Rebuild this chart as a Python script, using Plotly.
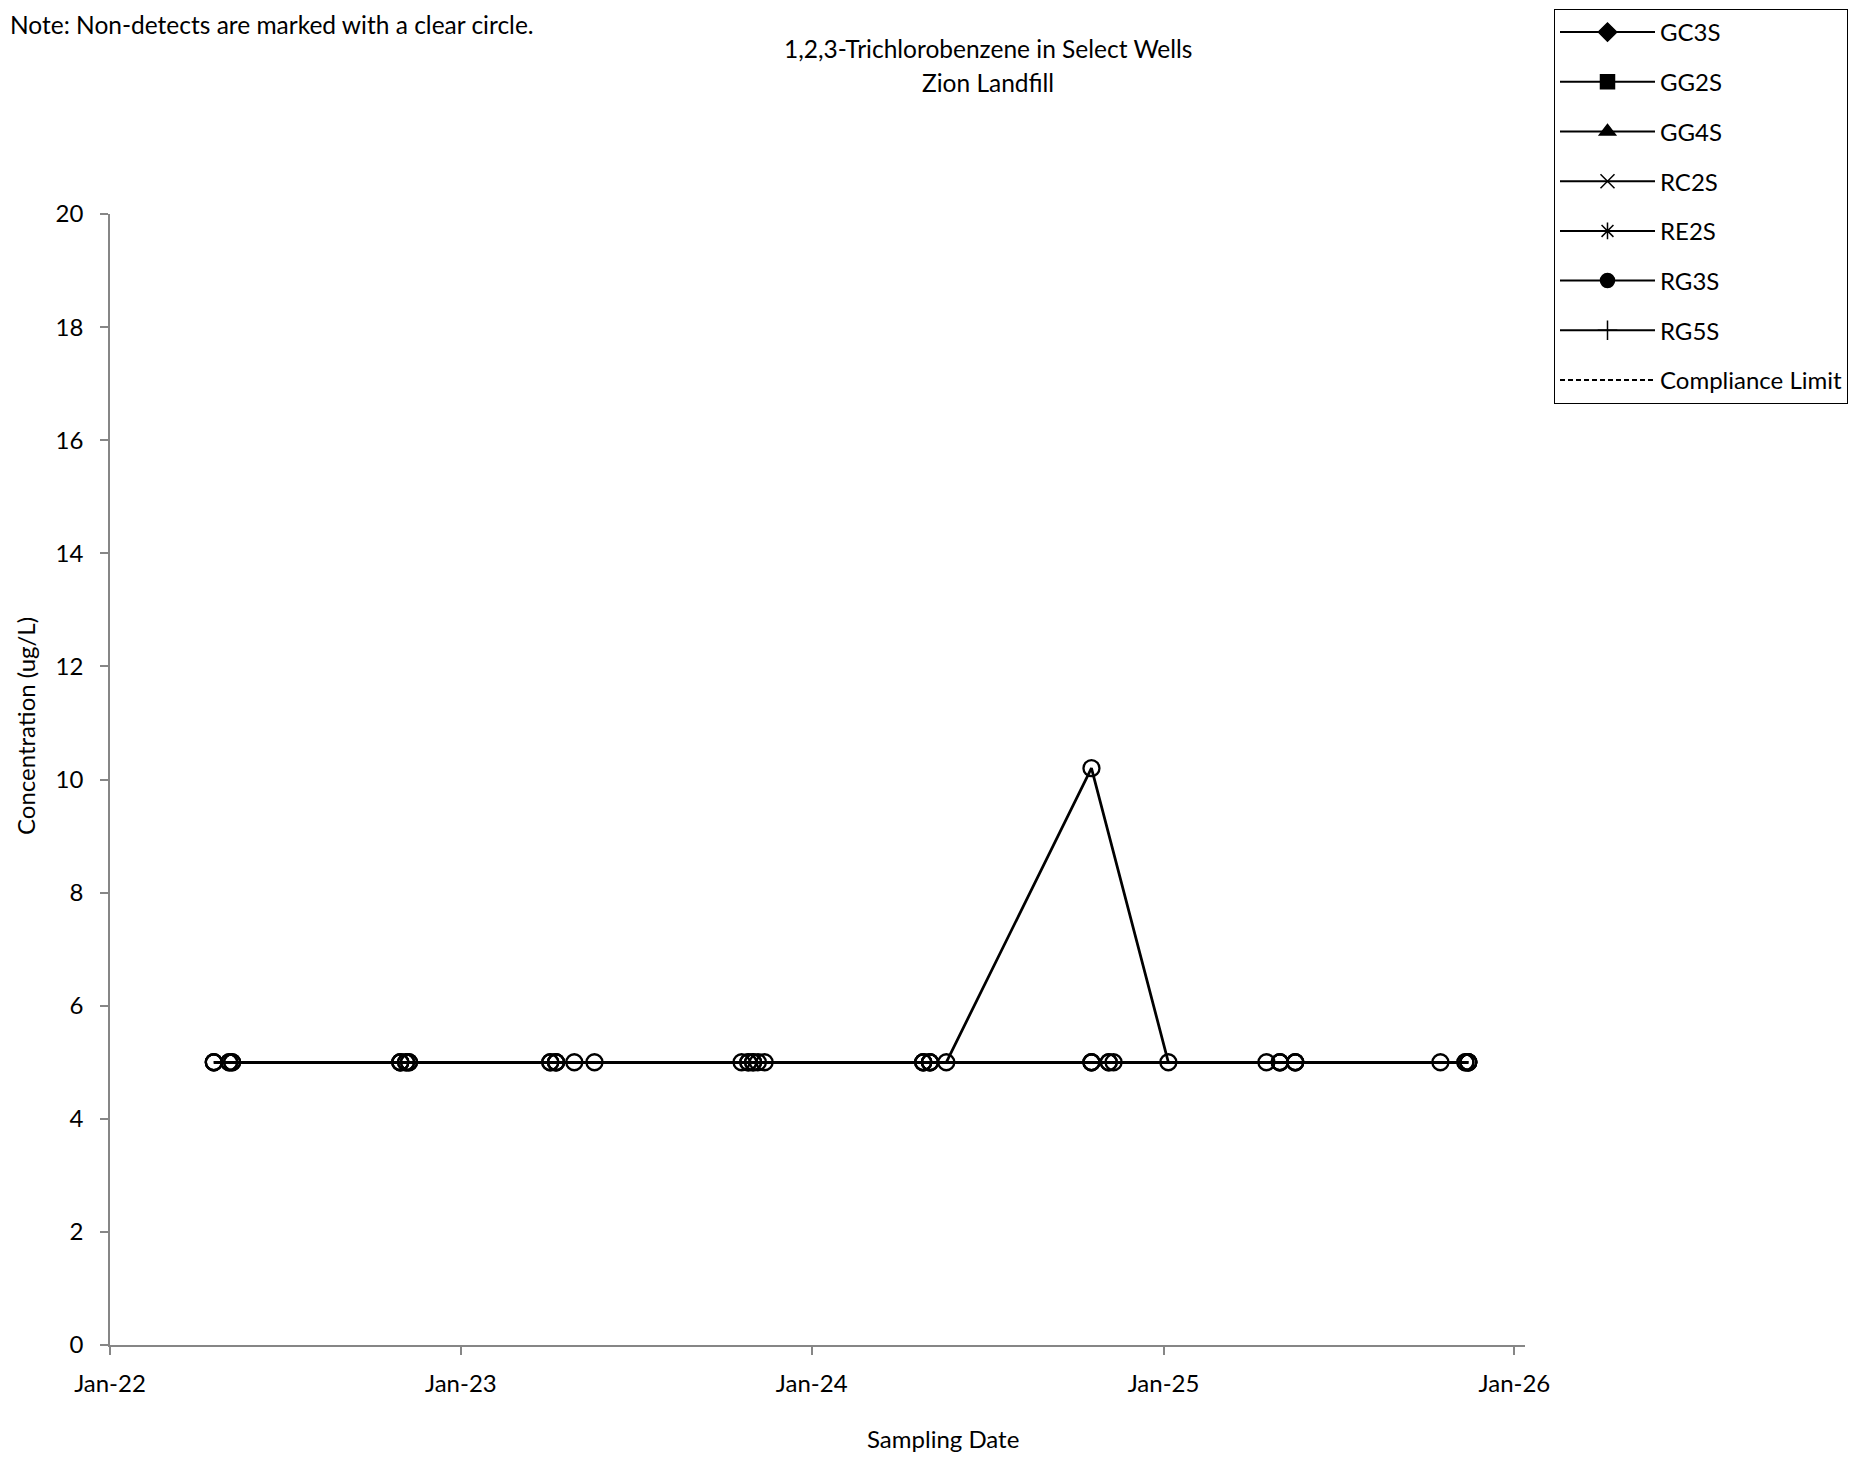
import plotly.graph_objects as go

# ---------------- data ----------------
wells = ["GC3S", "GG2S", "GG4S", "RC2S", "RE2S", "RG3S", "RG5S"]

gc3s_dates = ["2022-04-19", "2022-10-30", "2023-04-04", "2023-10-20", "2024-04-26", "2024-10-18", "2025-04-18", "2025-10-16"]
gc3s_vals = [5, 5, 5, 5, 5, 5, 5, 5]

gg2s_dates = ["2022-04-19", "2022-10-30", "2023-04-04", "2023-10-27", "2024-04-26", "2024-10-18", "2025-05-02", "2025-11-11"]
gg2s_vals = [5, 5, 5, 5, 5, 5, 5, 5]

gg4s_dates = ["2022-05-05", "2022-11-05", "2023-04-10", "2023-11-01", "2024-05-20", "2024-10-18", "2025-01-06", "2025-05-02", "2025-11-14"]
gg4s_vals = [5, 5, 5, 5, 5, 10.2, 5, 5, 5]

rc2s_dates = ["2022-05-05", "2022-11-05", "2023-04-10", "2023-11-06", "2024-05-03", "2024-11-05", "2025-05-18", "2025-11-14"]
rc2s_vals = [5, 5, 5, 5, 5, 5, 5, 5]

re2s_dates = ["2022-05-08", "2022-11-08", "2023-04-29", "2023-11-13", "2024-05-03", "2024-11-10", "2025-05-18", "2025-11-14"]
re2s_vals = [5, 5, 5, 5, 5, 5, 5, 5]

rg3s_dates = ["2022-05-08", "2022-11-08", "2023-05-20", "2023-10-27", "2024-04-26", "2024-10-18", "2025-05-18", "2025-11-11"]
rg3s_vals = [5, 5, 5, 5, 5, 5, 5, 5]

rg5s_dates = ["2022-04-19", "2022-10-30", "2023-04-10", "2023-11-01", "2024-05-03", "2024-11-05", "2025-05-02", "2025-11-14"]
rg5s_vals = [5, 5, 5, 5, 5, 5, 5, 5]

series_dates = [gc3s_dates, gg2s_dates, gg4s_dates, rc2s_dates, re2s_dates, rg3s_dates, rg5s_dates]
series_vals = [gc3s_vals, gg2s_vals, gg4s_vals, rc2s_vals, re2s_vals, rg3s_vals, rg5s_vals]

x_tick_vals = ["2022-01-01", "2023-01-01", "2024-01-01", "2025-01-01", "2026-01-01"]
x_tick_text = ["Jan-22", "Jan-23", "Jan-24", "Jan-25", "Jan-26"]
y_tick_vals = [0, 2, 4, 6, 8, 10, 12, 14, 16, 18, 20]

# ---------------- style ----------------
legend_symbols = ["diamond", "square", "triangle-up", "x-thin-open", "asterisk-open", "circle", "cross-thin-open"]
FONT = "Lato"
FS = 24
OFF = 8  # default page body margin
W, H = 1863 - 2 * OFF, 1465 - 2 * OFF
PL, PR, PT, PB = 110 - OFF, 1525 - OFF, 214 - OFF, 1345 - OFF  # plot area in figure pixels
AXC = "#868686"


def px_x(px):
    """page pixel (reference) -> paper x"""
    return (px - OFF - PL) / (PR - PL)


def px_y(py):
    return (PB - (py - OFF)) / (PB - PT)


fig = go.Figure()

# data traces (non-detects drawn as clear circles)
for name, d, v in zip(wells, series_dates, series_vals):
    fig.add_trace(go.Scatter(
        x=d, y=v, mode="lines+markers", name=name, showlegend=False,
        line=dict(color="black", width=2.75),
        marker=dict(symbol="circle-open", size=16, color="black", line=dict(width=2.3, color="black")),
    ))

# legend entries
for i, (name, sym) in enumerate(zip(wells, legend_symbols)):
    fig.add_trace(go.Scatter(
        x=[None], y=[None], mode="lines+markers", name=name, legendgroup=f"g{i}",
        line=dict(color="black", width=2),
        marker=dict(symbol=sym, size=14, color="black", line=dict(width=1.5, color="black")),
    ))
fig.add_trace(go.Scatter(
    x=[None], y=[None], mode="lines", name="Compliance Limit", legendgroup="g7",
    line=dict(color="black", width=2, dash="5px,3px"),
))

fig.update_layout(
    width=W, height=H, autosize=False,
    margin=dict(l=PL, r=W - PR, t=PT, b=H - PB, pad=0, autoexpand=False),
    paper_bgcolor="white", plot_bgcolor="white",
    font=dict(family=FONT, size=FS, color="black"),
    showlegend=True,
    legend=dict(
        x=px_x(1554), y=px_y(9), xanchor="left", yanchor="top",
        bordercolor="black", borderwidth=1, bgcolor="white",
        font=dict(family=FONT, size=FS, color="black"),
        tracegroupgap=15.5, itemwidth=95,
    ),
    xaxis=dict(
        type="date", range=["2022-01-01", "2026-01-12"],
        tickvals=x_tick_vals, ticktext=x_tick_text,
        showline=True, linecolor=AXC, linewidth=1.5,
        ticks="outside", ticklen=8, tickcolor=AXC, tickwidth=1.5,
        showgrid=False, zeroline=False, ticklabelstandoff=8,
        tickfont=dict(family=FONT, size=FS, color="black"),
    ),
    yaxis=dict(
        range=[0, 20], tickvals=y_tick_vals,
        showline=True, linecolor=AXC, linewidth=1.5,
        ticks="outside", ticklen=8, tickcolor=AXC, tickwidth=1.5,
        showgrid=False, zeroline=False, ticklabelstandoff=12,
        tickfont=dict(family=FONT, size=FS, color="black"),
    ),
    annotations=[
        dict(text="Note: Non-detects are marked with a clear circle.", xref="paper", yref="paper",
             x=px_x(OFF), y=px_y(25), xanchor="left", yanchor="middle", showarrow=False,
             font=dict(family=FONT, size=24.5, color="black")),
        dict(text="1,2,3-Trichlorobenzene in Select Wells", xref="paper", yref="paper",
             x=px_x(988), y=px_y(49), xanchor="center", yanchor="middle", showarrow=False,
             font=dict(family=FONT, size=24.5, color="black")),
        dict(text="Zion Landfill", xref="paper", yref="paper",
             x=px_x(988), y=px_y(82), xanchor="center", yanchor="middle", showarrow=False,
             font=dict(family=FONT, size=24.5, color="black")),
        dict(text="Concentration (ug/L)", xref="paper", yref="paper", textangle=-90,
             x=px_x(25), y=px_y(726), xanchor="center", yanchor="middle", showarrow=False,
             font=dict(family=FONT, size=FS, color="black")),
        dict(text="Sampling Date", xref="paper", yref="paper",
             x=px_x(943), y=px_y(1438), xanchor="center", yanchor="middle", showarrow=False,
             font=dict(family=FONT, size=FS, color="black")),
    ],
)

fig.write_html("out.html")
